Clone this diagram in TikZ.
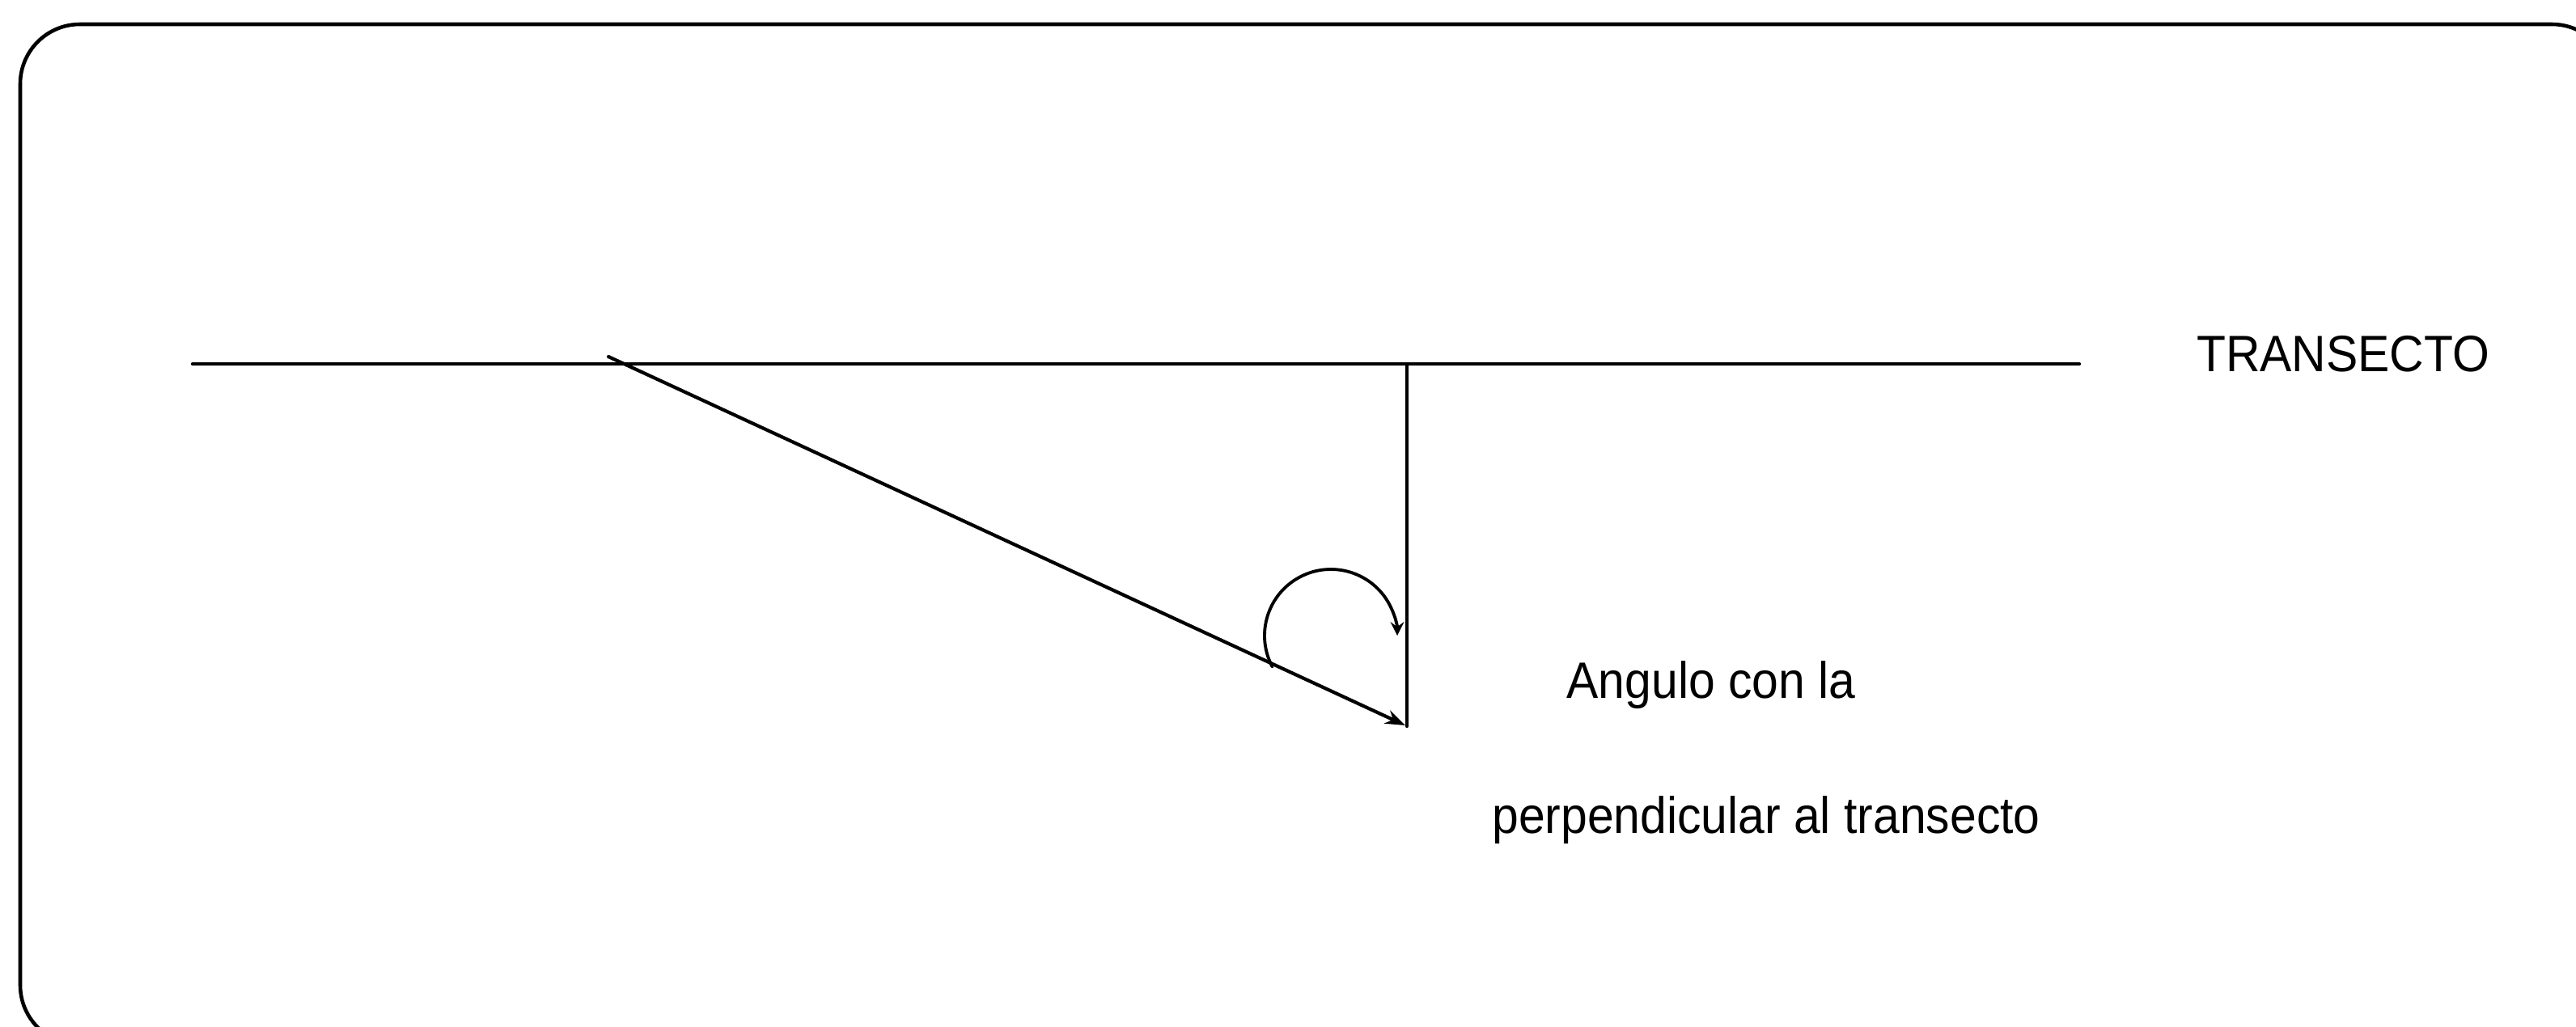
\documentclass[tikz,border=0pt]{standalone}
\usepackage{fontspec}
\setmainfont{Liberation Sans}
\usetikzlibrary{arrows.meta}
\tikzset{rotulo/.style={font=\fontsize{18}{21}\selectfont, xscale=0.93, transform shape}}
\begin{document}
\begin{tikzpicture}[x=0.01cm, y=-0.01cm, line join=round, line cap=round, >=stealth, line width=1.2pt]
			\clip (0,0) rectangle (3184,1269);
			% Marco
			\draw[line width=1.3pt, rounded corners=21pt] (25,30) rectangle (3228,1292);
			% Transecto y perpendicular
			\coordinate (T1) at (238,450);
			\coordinate (T2) at (2570,450);
			\coordinate (P) at (1739,450);
			\coordinate (O) at (752,441);
			\coordinate (A) at (1737,897);
			\draw (T1) -- (T2);
			\draw (P) -- (1739,898);
			\draw[-{Stealth[length=7pt,width=5pt]}] (O) -- (A);
			% Angulo
			\draw[->, line width=1.1pt] (1572.6,824.5) arc[start angle=152, end angle=360, radius=82];
			% Textos
			\node[rotulo] (transecto) at (2896,438) {TRANSECTO};
			\node[rotulo, anchor=base] (angulo) at (2115,863) {Angulo con la};
			\node[rotulo, anchor=base] (perp) at (2183,1030) {perpendicular al transecto};
		\end{tikzpicture}
\end{document}
